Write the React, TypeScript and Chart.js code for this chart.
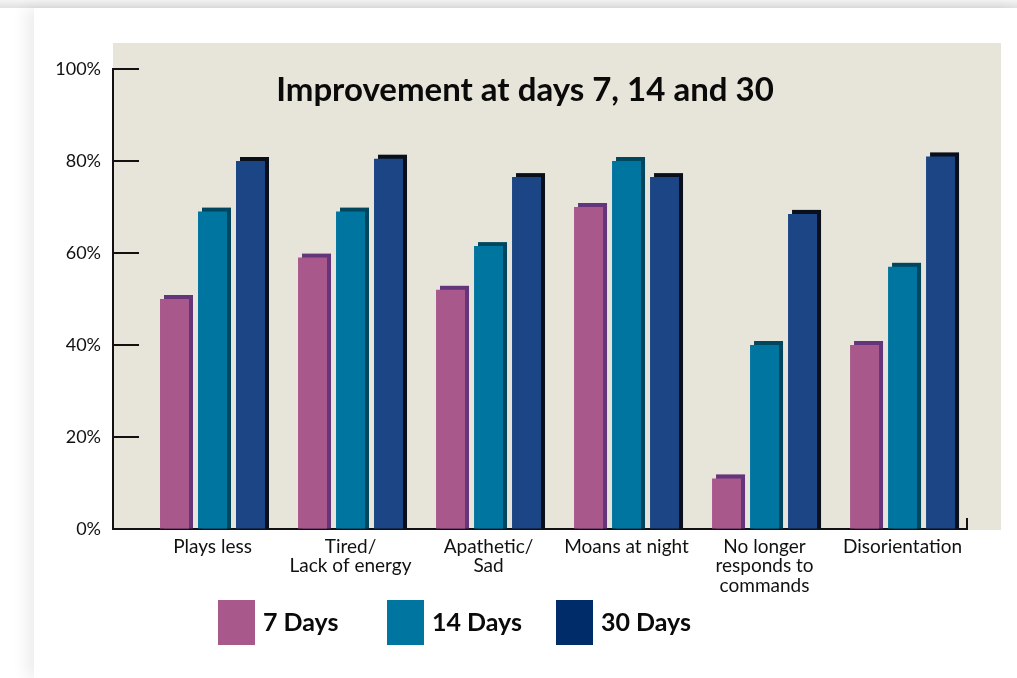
import React, { useEffect, useRef } from "react";
import { Chart, registerables } from "chart.js";

Chart.register(...registerables);

// ---- data ----
const categories = ["Plays less", "Tired/Lack of energy", "Apathetic/Sad", "Moans at night", "No longer responds to commands", "Disorientation"];
const tickLabels: (string | string[])[] = [
  "Plays less",
  ["Tired/", "Lack of energy"],
  ["Apathetic/", "Sad"],
  "Moans at night",
  ["No longer", "responds to", "commands"],
  "Disorientation",
];
const seriesNames = ["7 Days", "14 Days", "30 Days"];
const days7 = [50, 59, 52, 70, 11, 40];
const days14 = [69, 69, 61.5, 80, 40, 57];
const days30 = [80, 80.5, 76.5, 76.5, 68.5, 81];
const yTickValues = [0, 20, 40, 60, 80, 100];
const titleText = "Improvement at days 7, 14 and 30";

// ---- styles ----
const barColors = ["#a9588c", "#0075a0", "#1b4585"];
const shadowColors = ["#64357a", "#00465f", "#0a101b"];
const legendColors = ["#a9588c", "#0075a0", "#002d6a"];
const FONT = "Lato";

const backdropPlugin = {
  id: "backdrop",
  beforeDraw(chart: any) {
    const { ctx, chartArea: a } = chart;
    ctx.save();
    ctx.fillStyle = "#e7e4d9";
    const top = a.top - 26;
    ctx.fillRect(a.left, top, a.right + 34 - a.left, a.bottom + 1 - top);
    ctx.restore();
  },
};

const shadowPlugin = {
  id: "barShadow",
  beforeDatasetsDraw(chart: any) {
    const { ctx } = chart;
    ctx.save();
    chart.data.datasets.forEach((_ds: any, di: number) => {
      const meta = chart.getDatasetMeta(di);
      ctx.fillStyle = shadowColors[di];
      meta.data.forEach((el: any) => {
        const { x, y, base, width } = el.getProps(["x", "y", "base", "width"], true);
        ctx.fillRect(x - width / 2 + 4, y - 4, width, base - y + 4);
      });
    });
    ctx.restore();
  },
};

const decorPlugin = {
  id: "decor",
  afterDraw(chart: any) {
    const { ctx, chartArea: a } = chart;
    const ys = chart.scales.y;
    ctx.save();
    // inside y ticks
    ctx.strokeStyle = "#111";
    ctx.lineWidth = 2;
    ys.ticks.forEach((t: any) => {
      const py = Math.round(ys.getPixelForValue(t.value));
      ctx.beginPath();
      ctx.moveTo(a.left, py);
      ctx.lineTo(a.left + 26, py);
      ctx.stroke();
    });
    // right end tick of x axis
    ctx.beginPath();
    ctx.moveTo(a.right, a.bottom);
    ctx.lineTo(a.right, a.bottom - 11);
    ctx.stroke();

    // title
    ctx.fillStyle = "#0a0a0a";
    ctx.font = `bold 33px ${FONT}`;
    ctx.textAlign = "center";
    ctx.textBaseline = "alphabetic";
    ctx.fillText(titleText, a.left + 412, a.top + 32);

    // legend
    ctx.textAlign = "left";
    ctx.font = `bold 25px ${FONT}`;
    chart.data.datasets.forEach((ds: any, i: number) => {
      const bx = a.left + 105 + i * 169;
      const by = a.bottom + 71;
      ctx.fillStyle = legendColors[i];
      ctx.fillRect(bx, by, 37, 45);
      ctx.fillStyle = "#0a0a0a";
      ctx.fillText(ds.label, bx + 45, by + 31);
    });
    ctx.restore();
  },
};

export default function App() {
  const ref = useRef<HTMLCanvasElement | null>(null);

  useEffect(() => {
    if (!ref.current) return;
    const series = [days7, days14, days30];
    const chart = new Chart(ref.current, {
      type: "bar",
      data: {
        labels: categories,
        datasets: series.map((vals, si) => ({
          label: seriesNames[si],
          data: vals.map((v, i) => ({ x: i, y: v })),
          backgroundColor: barColors[si],
          borderWidth: 0,
          categoryPercentage: 0.826,
          barPercentage: 0.763,
        })),
      },
      options: {
        responsive: false,
        animation: false,
        devicePixelRatio: 1,
        layout: { padding: { top: 69, right: 50, bottom: 0, left: 0 } },
        plugins: {
          legend: { display: false },
          tooltip: { enabled: false },
          title: { display: false },
        },
        scales: {
          x: {
            type: "linear",
            offset: false,
            min: -0.721,
            max: 5.467,
            z: 1,
            afterBuildTicks: (s: any) => {
              s.ticks = tickLabels.map((_, i) => ({ value: i }));
            },
            afterFit: (s: any) => {
              s.height = 149;
            },
            ticks: {
              autoSkip: false,
              maxRotation: 0,
              minRotation: 0,
              padding: 8,
              color: "#111",
              font: { family: FONT, size: 19, lineHeight: 1.03 },
              callback: (v: any) => tickLabels[Math.round(v)] ?? "",
            },
            grid: { drawOnChartArea: false, drawTicks: false, offset: false },
            border: { color: "#111", width: 2 },
          },
          y: {
            min: 0,
            max: 100,
            afterBuildTicks: (s: any) => {
              s.ticks = yTickValues.map((v) => ({ value: v }));
            },
            afterFit: (s: any) => {
              s.width = 113;
            },
            ticks: {
              padding: 12,
              color: "#111",
              font: { family: FONT, size: 18 },
              callback: (v: any) => `${v}%`,
            },
            grid: { drawOnChartArea: false, drawTicks: false },
            border: { color: "#111", width: 2 },
          },
        },
      } as any,
      plugins: [backdropPlugin, shadowPlugin, decorPlugin],
    });
    return () => chart.destroy();
  }, []);

  return (
    <div style={{ position: "fixed", left: 0, top: 0, width: 1017, height: 678, background: "#fff", overflow: "hidden" }}>
      <div style={{ position: "absolute", left: 0, top: 0, width: 1017, height: 8, background: "linear-gradient(#f4f4f4, #e1e1e1)" }} />
      <div
        style={{
          position: "absolute",
          left: 34,
          top: 8,
          width: 1017 - 34,
          height: 678 - 8,
          background: "#fff",
          boxShadow: "-8px 0 14px rgba(0,0,0,0.07)",
        }}
      />
      <canvas ref={ref} width={1017} height={678} style={{ position: "absolute", left: 0, top: 0, width: 1017, height: 678 }} />
    </div>
  );
}
